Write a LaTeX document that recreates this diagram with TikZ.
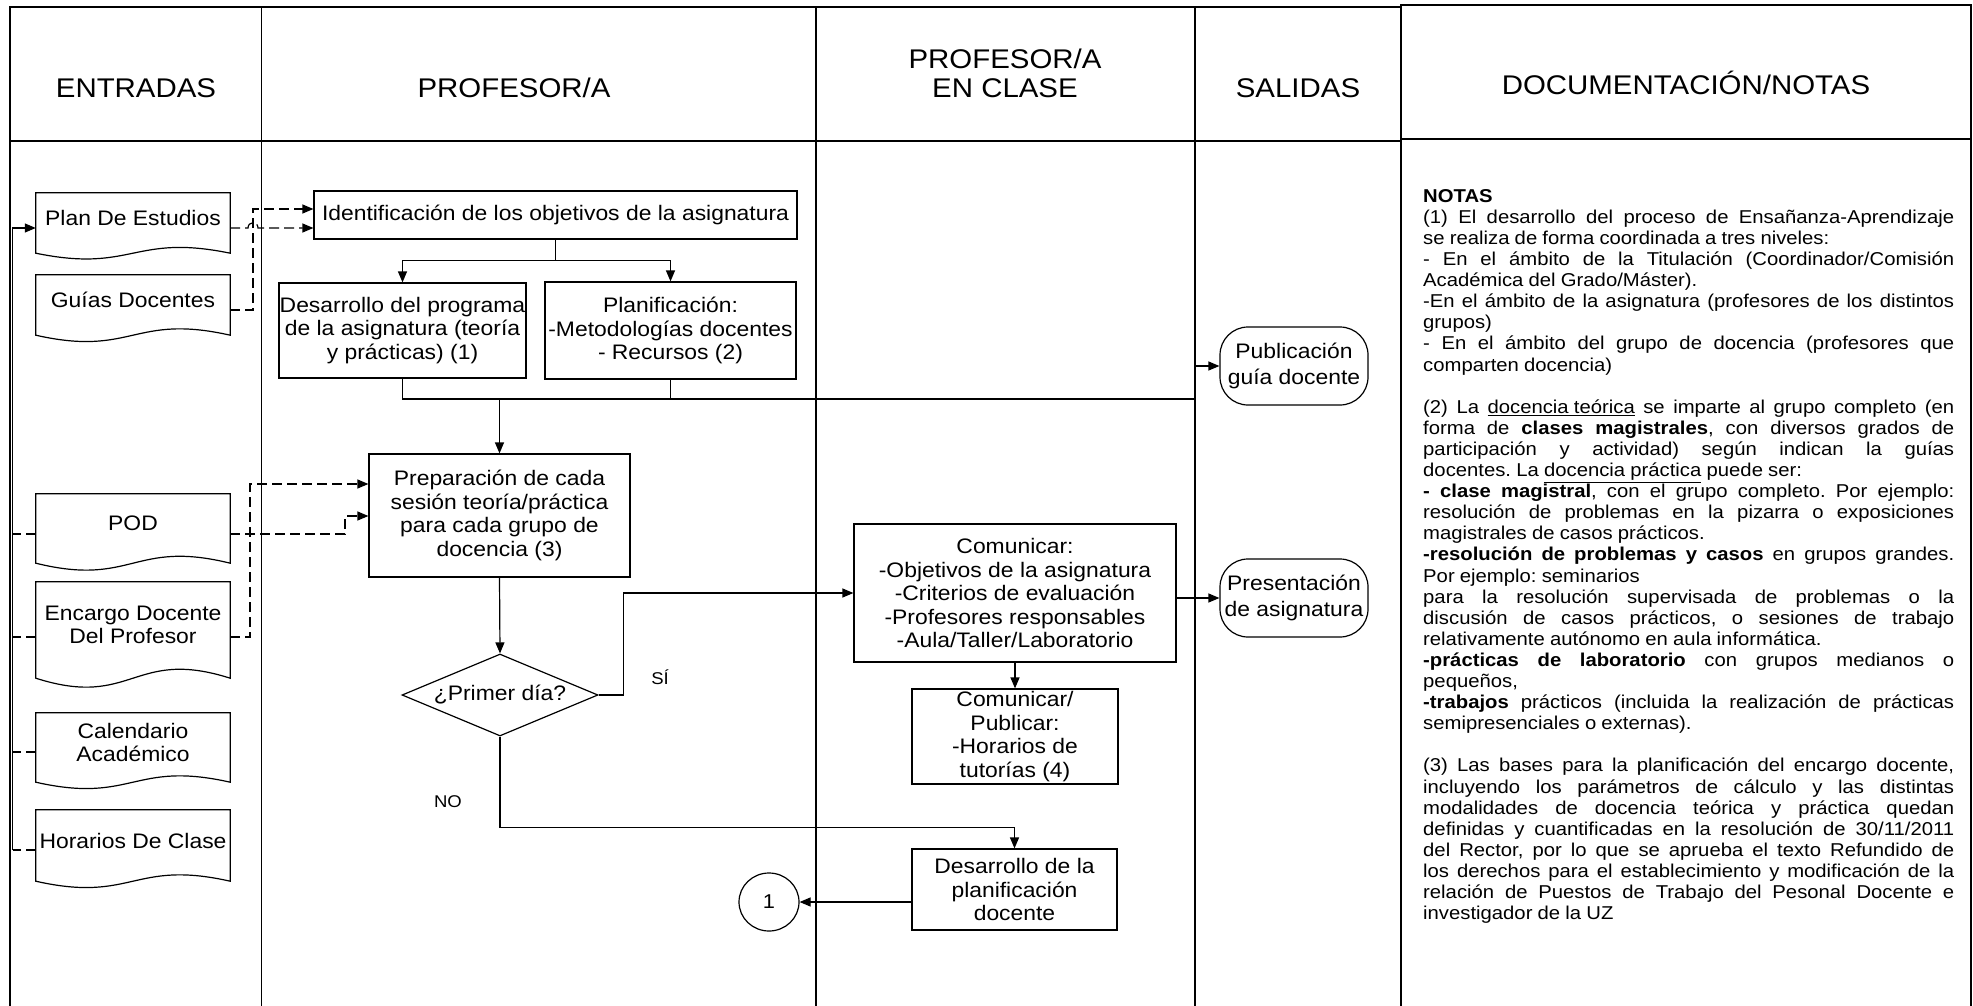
\documentclass[tikz,border=0pt]{standalone}
\usepackage{fontspec}
\setmainfont{Liberation Sans}[FakeStretch=1.09]
\usetikzlibrary{arrows.meta,shapes.geometric,calc}
\newcommand\fhead{\fontsize{27pt}{29pt}\selectfont}
\newcommand\fbody{\fontsize{21pt}{23.5pt}\selectfont}
\newcommand\fsal{\fontsize{21pt}{26pt}\selectfont}
\newcommand\fnote{\fontsize{18.6pt}{21.1pt}\selectfont}
\newcommand\flab{\fontsize{17pt}{19pt}\selectfont}
\newcommand\jl[1]{\par\noindent\hbox to \hsize{#1}\par}
\newcommand\rl[1]{\par\noindent\hbox to \hsize{#1\hfil}\par}
\newcommand\docshape[2]{\draw[docline] (#1.north west) -- ([yshift=-10pt]#1.south west)
  .. controls ($([yshift=-10pt]#1.south)+(0,#2)$) and ($([yshift=-10pt]#1.south)+(0,-#2)$) ..
  ([yshift=-10pt]#1.south east) -- (#1.north east) -- cycle;}
\begin{document}
\begin{tikzpicture}[x=1pt,y=-1pt,
  frame/.style={line width=1.3pt},
  box/.style={draw, line width=1.2pt, inner sep=0pt, align=center, font=\fbody},
  docnode/.style={inner sep=0pt, align=center, font=\fbody, minimum width=194pt},
  docline/.style={line width=1.2pt},
  dia/.style={draw, diamond, aspect=2.39, minimum width=196pt, minimum height=82pt, inner sep=0pt, line width=1.2pt, font=\fbody},
  term/.style={draw, rounded corners=28pt, line width=1.2pt, inner sep=0pt, align=center, font=\fsal, minimum width=148pt, minimum height=78pt},
  head/.style={font=\fhead, inner sep=0pt, align=center},
  lab/.style={font=\flab, inner sep=0pt},
  arr/.style={-{Triangle[length=11pt,width=9pt]}, line width=1.2pt},
  conn/.style={line width=1.2pt},
  dsh/.style={dash pattern=on 10pt off 5pt, line width=1.2pt},
  notes/.style={text width=531pt, inner sep=0pt, font=\fnote, anchor=north west}
]
\useasboundingbox (0,0) rectangle (1973,1006);
\fill[white] (0,0) rectangle (1973,1006);

% frames
\draw[frame] (10,1006) -- (10,7) -- (1401,7);
\draw[frame] (261.5,7) -- (261.5,1006);
\draw[frame] (816,7) -- (816,1006);
\draw[frame] (1195,7) -- (1195,1006);
\draw[frame] (10,141) -- (1401,141);
\draw[frame] (1401,1006) -- (1401,5) -- (1971,5) -- (1971,1006);
\draw[frame] (1401,139) -- (1971,139);

% headers
\node[head, text height=19.5pt, text depth=0pt] (hEnt) at (136,88) {ENTRADAS};
\node[head, text height=19.5pt, text depth=0pt] (hProf) at (514,88) {PROFESOR/A};
\node[head] (hClase) at (1005,73.5) {PROFESOR/A\\EN CLASE};
\node[head, text height=19.5pt, text depth=0pt] (hSal) at (1298,88) {SALIDAS};
\node[head, text height=19.5pt, text depth=0pt] (hDoc) at (1686,85) {DOCUMENTACIÓN/NOTAS};

% input documents
\node[docnode, minimum height=50pt] (plan) at (133,218) {Plan De Estudios};
\docshape{plan}{20}
\node[docnode, minimum height=50pt] (guias) at (133,300) {Guías Docentes};
\docshape{guias}{22}
\node[docnode, minimum height=59pt] (pod) at (133,523.5) {POD};
\docshape{pod}{24}
\node[docnode, minimum height=86pt] (enc) at (133,625) {Encargo Docente\\Del Profesor};
\docshape{enc}{31}
\node[docnode, minimum height=59pt] (cal) at (133,742.5) {Calendario\\Académico};
\docshape{cal}{22}
\node[docnode, minimum height=61pt] (hor) at (133,840.5) {Horarios De Clase};
\docshape{hor}{22}

% process nodes
\node[box, minimum width=483pt, minimum height=48pt] (ident) at (555.5,215) {Identificación de los objetivos de la asignatura};
\node[box, minimum width=247pt, minimum height=95pt] (desa) at (402.5,330.5) {Desarrollo del programa\\de la asignatura (teoría\\y prácticas) (1)};
\node[box, minimum width=251pt, minimum height=97pt] (plani) at (670.5,330.5) {Planificación:\\-Metodologías docentes\\- Recursos (2)};
\node[box, minimum width=261pt, minimum height=123pt] (prep) at (499.5,515.5) {Preparación de cada\\sesión teoría/práctica\\para cada grupo de\\docencia (3)};
\node[dia] (dia) at (500,695) {¿Primer día?};
\node[box, minimum width=322pt, minimum height=138pt] (comm) at (1015,593) {Comunicar:\\-Objetivos de la asignatura\\-Criterios de evaluación\\-Profesores responsables\\-Aula/Taller/Laboratorio};
\node[box, minimum width=206pt, minimum height=95pt] (commpub) at (1015,736.5) {Comunicar/\\Publicar:\\-Horarios de\\tutorías (4)};
\node[box, minimum width=205pt, minimum height=81pt] (desplan) at (1014.5,889.5) {Desarrollo de la\\planificación\\docente};
\node[draw, ellipse, minimum width=60pt, minimum height=58pt, inner sep=0pt, line width=1.2pt, font=\fontsize{20pt}{22pt}\selectfont] (circ) at (769,902) {1};
\node[term] (pub) at (1294,366) {Publicación\\guía docente};
\node[term] (pres) at (1294,598) {Presentación\\de asignatura};
\node[lab] (si) at (660,677) {SÍ};
\node[lab] (no) at (448,802) {NO};

% coordinates
\coordinate (planL) at ([yshift=-10pt]plan.west);
\coordinate (planR) at ([yshift=-10pt]plan.east);
\coordinate (guiasR) at ([yshift=-10pt]guias.east);
\coordinate (podL) at ([yshift=-10.5pt]pod.west);
\coordinate (podR) at ([yshift=-10.5pt]pod.east);
\coordinate (encL) at ([yshift=-12pt]enc.west);
\coordinate (encR) at ([yshift=-12pt]enc.east);
\coordinate (calL) at ([yshift=-9.5pt]cal.west);
\coordinate (horL) at ([yshift=-9.5pt]hor.west);
\coordinate (busTop) at (12.5,228);
\coordinate (busBot) at (12.5,850);
\coordinate (gUp) at (253,209);
\coordinate (pUp) at (345,516);
\coordinate (eUp) at (250,484);
\coordinate (jn) at (499.5,399);
\coordinate (pubTurn) at (1195,399);

% left bus
\draw[arr] (busBot) -- (busTop) -- (planL);
\draw[dsh] (podL) -- (podL -| busTop);
\draw[dsh] (encL) -- (encL -| busTop);
\draw[dsh] (calL) -- (calL -| busTop);
\draw[dsh] (horL) -- (horL -| busTop);

% dashed inputs
\draw[dsh, arr] (planR) -- (248,228) .. controls (248,221) and (258,221) .. (258,228) -- (planR -| ident.west);
\draw[dsh, arr] (guiasR) -| (gUp) -- (gUp -| ident.west);
\draw[dsh, arr] (encR) -| (eUp) -- (eUp -| prep.west);
\draw[dsh, arr] (podR) -| (pUp) -- (pUp -| prep.west);

% flow
\draw[arr] (ident.south) -- ++(0,21) -| (desa.north);
\draw[arr] (ident.south) -- ++(0,21) -| (plani.north);
\draw[conn] (desa.south) |- (jn);
\draw[conn] (plani.south) |- (jn);
\draw[arr] (jn) -- (prep.north);
\draw[arr] (plani.south) |- (pubTurn) |- (pub.west);
\draw[arr] (prep.south) -- (dia.north);
\draw[arr] (dia.east) -- ++(25,0) |- (comm.west);
\draw[arr] (comm.east |- pres.west) -- (pres.west);
\draw[arr] (comm.south) -- (commpub.north);
\draw[arr] (dia.south) |- ([yshift=21pt]desplan.north) -- (desplan.north);
\draw[arr] (circ.east -| desplan.west) -- (circ.east);

% notes
\node[notes] (notas) at (1423,181) {\setlength\parindent{0pt}\frenchspacing
\spaceskip=0.28em plus 4em minus 0.05em \xspaceskip=\spaceskip
\rl{\textbf{NOTAS}}%
\jl{(1) El desarrollo del proceso de Ensañanza-Aprendizaje}%
\rl{se realiza de forma coordinada a tres niveles:}%
\jl{- En el ámbito de la Titulación (Coordinador/Comisión}%
\rl{Académica del Grado/Máster).}%
\jl{-En el ámbito de la asignatura (profesores de los distintos}%
\rl{grupos)}%
\jl{- En el ámbito del grupo de docencia (profesores que}%
\rl{comparten docencia)}%
\rl{\strut}%
\jl{(2) La \underline{docencia teórica} se imparte al grupo completo (en}%
\jl{forma de \textbf{clases magistrales}, con diversos grados de}%
\jl{participación y actividad) según indican la guías}%
\rl{docentes. La \underline{docencia práctica} puede ser:}%
\jl{\textbf{- clase magistral}, con el grupo completo. Por ejemplo:}%
\jl{resolución de problemas en la pizarra o exposiciones}%
\rl{magistrales de casos prácticos.}%
\jl{\textbf{-resolución de problemas y casos} en grupos grandes.}%
\rl{Por ejemplo: seminarios}%
\jl{para la resolución supervisada de problemas o la}%
\jl{discusión de casos prácticos, o sesiones de trabajo}%
\rl{relativamente autónomo en aula informática.}%
\jl{\textbf{-prácticas de laboratorio} con grupos medianos o}%
\rl{pequeños,}%
\jl{\textbf{-trabajos} prácticos (incluida la realización de prácticas}%
\rl{semipresenciales o externas).}%
\rl{\strut}%
\jl{(3) Las bases para la planificación del encargo docente,}%
\jl{incluyendo los parámetros de cálculo y las distintas}%
\jl{modalidades de docencia teórica y práctica quedan}%
\jl{definidas y cuantificadas en la resolución de 30/11/2011}%
\jl{del Rector, por lo que se aprueba el texto Refundido de}%
\jl{los derechos para el establecimiento y modificación de la}%
\jl{relación de Puestos de Trabajo del Pesonal Docente e}%
\rl{investigador de la UZ}};
\end{tikzpicture}
\end{document}
